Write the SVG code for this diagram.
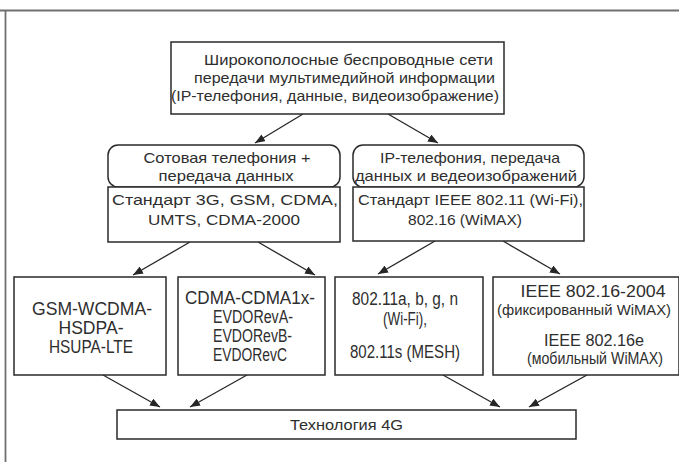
<svg xmlns="http://www.w3.org/2000/svg" width="679" height="462" viewBox="0 0 679 462">
<defs>
<style>
.box{fill:#fff;stroke:#2a2a2a;stroke-width:1.5}
.t{font-family:"Liberation Sans",Arial,sans-serif;fill:#2e2e2e;text-anchor:middle}
.s15{font-size:15px}
.s17{font-size:17.5px}
.s16{font-size:16px}
.s14{font-size:14.5px}
.frame{stroke:#707070;stroke-width:1.8;fill:none}
.c{stroke:#262626;stroke-width:1.3;fill:none;marker-end:url(#ah)}
</style>
<marker id="ah" viewBox="0 0 10 8" refX="10" refY="4" markerWidth="10" markerHeight="8" markerUnits="userSpaceOnUse" orient="auto">
<path d="M0,0 L10,4 L0,8 Z" fill="#262626"/>
</marker>
</defs>
<rect width="679" height="462" fill="#fff"/>
<g id="frame">
<line class="frame" x1="0" y1="10.5" x2="679" y2="10.5"/>
<line class="frame" x1="5.5" y1="10" x2="5.5" y2="462"/>
</g>
<g id="connectors">
<line class="c" x1="303" y1="114" x2="255" y2="143"/>
<line class="c" x1="388" y1="114" x2="438" y2="143"/>
<line class="c" x1="190" y1="242" x2="133" y2="275"/>
<line class="c" x1="258" y1="242" x2="315" y2="275"/>
<line class="c" x1="435" y1="241" x2="378" y2="274"/>
<line class="c" x1="503" y1="241" x2="560" y2="274"/>
<line class="c" x1="103" y1="375" x2="160" y2="407"/>
<line class="c" x1="247" y1="375" x2="190" y2="407"/>
<line class="c" x1="443" y1="375" x2="500" y2="407"/>
<line class="c" x1="587" y1="375" x2="529" y2="407"/>
</g>
<g id="top">
<rect class="box" x="171" y="42" width="333" height="72"/>
<text class="t s15" x="348.5" y="65" textLength="289" lengthAdjust="spacingAndGlyphs">Широкополосные беспроводные сети</text>
<text class="t s15" x="344.5" y="83" textLength="301" lengthAdjust="spacingAndGlyphs">передачи мультимедийной информации</text>
<text class="t s15" x="335" y="101" textLength="328" lengthAdjust="spacingAndGlyphs">(IP-телефония, данные, видеоизображение)</text>
</g>
<g id="cell">
<rect class="box" x="108" y="145" width="232" height="42" rx="10"/>
<text class="t s15" x="227" y="163" textLength="167" lengthAdjust="spacingAndGlyphs">Сотовая телефония +</text>
<text class="t s15" x="226" y="181" textLength="135" lengthAdjust="spacingAndGlyphs">передача данных</text>
</g>
<g id="cell-std">
<rect class="box" x="108" y="187" width="232" height="55"/>
<text class="t s15" x="225" y="205" textLength="226" lengthAdjust="spacingAndGlyphs">Стандарт 3G, GSM, CDMA,</text>
<text class="t s15" x="224" y="225" textLength="152" lengthAdjust="spacingAndGlyphs">UMTS, CDMA-2000</text>
</g>
<g id="ip">
<rect class="box" x="353" y="145" width="231" height="42" rx="10"/>
<text class="t s15" x="470" y="163" textLength="180" lengthAdjust="spacingAndGlyphs">IP-телефония, передача</text>
<text class="t s15" x="466" y="181" textLength="222" lengthAdjust="spacingAndGlyphs">данных и ведеоизображений</text>
</g>
<g id="ip-std">
<rect class="box" x="353" y="187" width="231" height="54"/>
<text class="t s15" x="470.5" y="205" textLength="225" lengthAdjust="spacingAndGlyphs">Стандарт IEEE 802.11 (Wi-Fi),</text>
<text class="t s15" x="465" y="225" textLength="114" lengthAdjust="spacingAndGlyphs">802.16 (WiMAX)</text>
</g>
<g id="gsm">
<rect class="box" x="14" y="277" width="152" height="98"/>
<text class="t s17" x="92" y="315" textLength="120" lengthAdjust="spacingAndGlyphs">GSM-WCDMA-</text>
<text class="t s17" x="91" y="334" textLength="65" lengthAdjust="spacingAndGlyphs">HSDPA-</text>
<text class="t s17" x="91" y="353" textLength="84" lengthAdjust="spacingAndGlyphs">HSUPA-LTE</text>
</g>
<g id="cdma">
<rect class="box" x="178" y="277" width="147" height="98"/>
<text class="t s17" x="250" y="304" textLength="130" lengthAdjust="spacingAndGlyphs">CDMA-CDMA1x-</text>
<text class="t s17" x="253" y="323" textLength="80" lengthAdjust="spacingAndGlyphs">EVDORevA-</text>
<text class="t s17" x="252.5" y="342" textLength="79" lengthAdjust="spacingAndGlyphs">EVDORevB-</text>
<text class="t s17" x="250" y="361" textLength="74" lengthAdjust="spacingAndGlyphs">EVDORevC</text>
</g>
<g id="wifi">
<rect class="box" x="335" y="277" width="148" height="98"/>
<text class="t s17" x="405" y="305" textLength="106" lengthAdjust="spacingAndGlyphs">802.11a, b, g, n</text>
<text class="t s17" x="405" y="325" textLength="44" lengthAdjust="spacingAndGlyphs">(Wi-Fi),</text>
<text class="t s17" x="405" y="358" textLength="110" lengthAdjust="spacingAndGlyphs">802.11s (MESH)</text>
</g>
<g id="wimax">
<rect class="box" x="493" y="277" width="186" height="98"/>
<text class="t s16" x="593" y="297" textLength="145" lengthAdjust="spacingAndGlyphs">IEEE 802.16-2004</text>
<text class="t s14" x="584" y="315" textLength="174" lengthAdjust="spacingAndGlyphs">(фиксированный WiMAX)</text>
<text class="t s16" x="594" y="346" textLength="100" lengthAdjust="spacingAndGlyphs">IEEE 802.16e</text>
<text class="t s16" x="595" y="364" textLength="136" lengthAdjust="spacingAndGlyphs">(мобильный WiMAX)</text>
</g>
<g id="g4">
<rect class="box" x="117" y="410" width="459" height="29"/>
<text class="t s15" x="346.5" y="430" textLength="113" lengthAdjust="spacingAndGlyphs">Технология 4G</text>
</g>
</svg>
